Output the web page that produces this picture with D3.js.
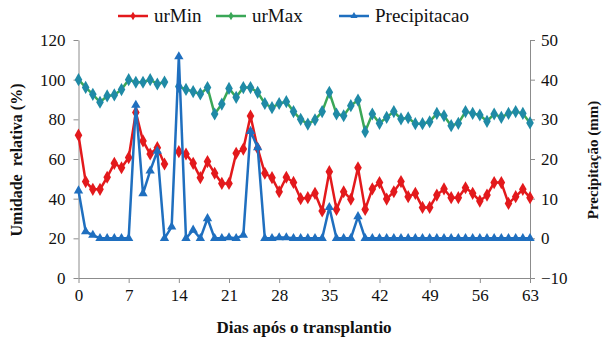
<!DOCTYPE html>
<html><head><meta charset="utf-8">
<script src="https://cdn.jsdelivr.net/npm/d3@7"></script>
</head><body style="margin:0"><svg id="c" width="606" height="341" style="font-family:'Liberation Serif'"></svg>
<script>
const days = d3.range(0, 64);
const urMin = [72,48.6,44.7,44.7,50.8,57.8,55.6,60.7,83.5,69.1,62.5,65.7,57.5,null,63.7,62.5,57.8,50.6,58.7,52.8,47.7,47.7,62.9,65,81.7,65.4,52.8,50.6,43.5,50.8,48.2,40,40.5,42.7,33.8,53.6,34.6,43.5,39.7,55.6,34.6,44.9,48.1,39.8,43.5,48.6,41,42.7,35.6,35.6,41.8,44.9,40.5,40.5,45.5,42.7,38.8,41.8,48.1,48.1,37.6,41,44.7,40.5];
const urMax = [100,96.1,92.6,88.6,91.8,92.3,95,100,98.7,98.7,100,97.8,98.8,null,96.5,95.1,94,92.8,96,82.7,87.7,95.6,91.1,96,96,93.6,88,85.9,88,88.9,83.9,80,77.6,79.8,83.9,93.6,82.7,81.8,86.9,89.7,73.8,82.7,78,81,83.9,80.2,80.8,77.8,77.8,78.8,83,81.8,76.8,78,83.9,83,82.2,79,82.7,81,83,83.9,83,78.2];
const precip = [12,1.7,0.8,0,0,0,0,0,33.6,11.3,17,22,0,2.9,45.8,0,2.1,0,5,0,0,0.2,0,0.8,27,22.9,0,0,0.2,0.2,0,0,0,0,0,7.8,0,0,0,5.5,0,0,0,0,0,0,0,0,0,0,0,0,0,0,0,0,0,0,0,0,0,0,0,0];
const xTicks = [0,7,14,21,28,35,42,49,56,63];
const leftTicks = [0,20,40,60,80,100,120];
const rightTicks = [-10,0,10,20,30,40,50];
const seriesNames = ["urMin","urMax","Precipitacao"];

const svg = d3.select("#c");
const FONT = "Liberation Serif";
const axisCol = "#8c8c8c";
const x = d3.scaleLinear().domain([0,63]).range([78.5,530]);
const yL = d3.scaleLinear().domain([0,120]).range([278,40]);
const yR = d3.scaleLinear().domain([-10,50]).range([278,40]);

function styleAxis(g){
  g.attr("font-family",FONT);
  g.select(".domain").attr("stroke",axisCol).attr("stroke-width",1);
  g.selectAll(".tick line").attr("stroke",axisCol);
  g.selectAll(".tick text").attr("font-family",FONT).style("font-family",`"${FONT}"`).attr("font-size",17).attr("fill","#111");
}
svg.append("g").attr("transform","translate(0,278)")
  .call(d3.axisBottom(x).tickValues(xTicks).tickSize(5).tickSizeOuter(0).tickPadding(6))
  .call(styleAxis);
svg.append("g").attr("transform","translate(78.5,0)")
  .call(d3.axisLeft(yL).tickValues(leftTicks).tickSize(5).tickSizeOuter(0).tickPadding(8))
  .call(styleAxis);
svg.append("g").attr("transform","translate(530,0)")
  .call(d3.axisRight(yR).tickValues(rightTicks).tickSize(5).tickSizeOuter(0).tickPadding(6))
  .call(styleAxis);

const diamond = d3.symbol().type(d3.symbolDiamond).size(50);
const tri = d3.symbol().type(d3.symbolTriangle).size(38);

function drawSeries(vals, yS, lineCol, markCol, sym){
  const pts = days.map((d,i)=>({d, v: vals[i]}));
  svg.append("path").datum(pts)
    .attr("fill","none").attr("stroke",lineCol).attr("stroke-width",2.5).attr("stroke-linejoin","round")
    .attr("d", d3.line().defined(p=>p.v!=null).x(p=>x(p.d)).y(p=>yS(p.v)));
  svg.append("g").selectAll("path").data(pts.filter(p=>p.v!=null)).join("path")
    .attr("d", sym).attr("fill", markCol)
    .attr("transform", p=>`translate(${x(p.d)},${yS(p.v)})`);
}
drawSeries(urMax, yL, "#3aa757", "#1f8aa6", diamond);
drawSeries(urMin, yL, "#e3191c", "#e3191c", diamond);
drawSeries(precip, yR, "#1f6fbf", "#1f6fbf", tri);

function txt(){ return svg.append("text").style("font-family",`"${FONT}"`).attr("fill","#111"); }
// axis titles
txt().attr("transform","translate(22,160) rotate(-90)")
  .attr("text-anchor","middle").attr("font-weight","bold").attr("font-size",16)
  .style("white-space","pre").text("Umidade  relativa (%)");
txt().attr("transform","translate(598,160) rotate(-90)")
  .attr("text-anchor","middle").attr("font-weight","bold").attr("font-size",15)
  .text("Precipitação (mm)");
txt().attr("x",304).attr("y",333)
  .attr("text-anchor","middle").attr("font-weight","bold").attr("font-size",17)
  .text("Dias após o transplantio");

// legend
const legend = [
  {name: seriesNames[0], line:"#e3191c", mark:"#e3191c", tri:false, x:118},
  {name: seriesNames[1], line:"#3aa757", mark:"#3aa757", tri:false, x:216},
  {name: seriesNames[2], line:"#1f6fbf", mark:"#1f6fbf", tri:true, x:339}
];
legend.forEach(l=>{
  svg.append("line").attr("x1",l.x).attr("x2",l.x+30).attr("y1",16).attr("y2",16)
    .attr("stroke",l.line).attr("stroke-width",2.5);
  svg.append("path").attr("d", d3.symbol().type(l.tri?d3.symbolTriangle:d3.symbolDiamond).size(22)())
    .attr("fill",l.mark).attr("transform",`translate(${l.x+15},16)`);
  txt().attr("x",l.x+36).attr("y",22).attr("font-size",19).text(l.name);
});
</script></body></html>
